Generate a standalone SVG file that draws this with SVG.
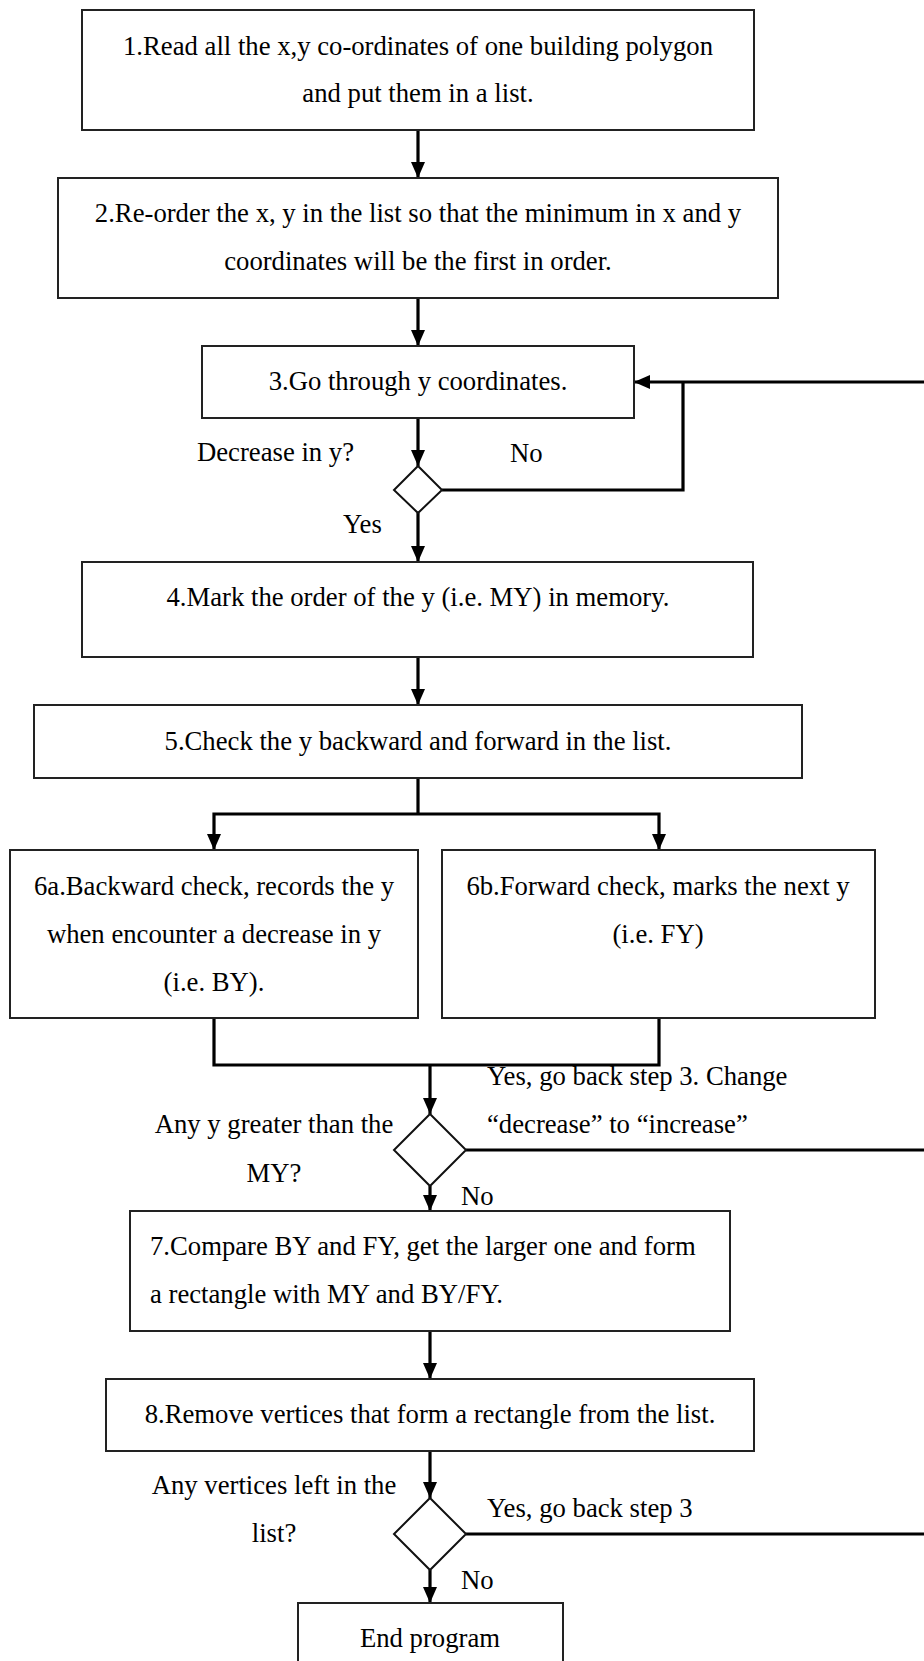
<svg xmlns="http://www.w3.org/2000/svg" width="924" height="1661" viewBox="0 0 924 1661">
<style>
.box{fill:#fff;stroke:#222;stroke-width:2}
.dia{fill:#fff;stroke:#111;stroke-width:2}
.con{fill:none;stroke:#000;stroke-width:3.2}
.arr{marker-end:url(#ah)}
text{font-family:"Liberation Serif","Times New Roman",serif;font-size:26.7px;fill:#000}
.c{text-anchor:middle}
</style>
<defs>
<marker id="ah" viewBox="0 0 16 14" refX="16" refY="7" markerWidth="16" markerHeight="14" markerUnits="userSpaceOnUse" orient="auto">
<path d="M0,0 L16,7 L0,14 z" fill="#000"/>
</marker>
</defs>
<rect width="924" height="1661" fill="#fff"/>
<g id="connectors">
<line class="con arr" x1="418" y1="130" x2="418" y2="178"/>
<line class="con arr" x1="418" y1="298" x2="418" y2="346"/>
<line class="con arr" x1="418" y1="418" x2="418" y2="466"/>
<polyline class="con" points="442,490 683,490 683,382"/>
<line class="con arr" x1="924" y1="382" x2="634" y2="382"/>
<line class="con arr" x1="418" y1="513" x2="418" y2="562"/>
<line class="con arr" x1="418" y1="657" x2="418" y2="705"/>
<polyline class="con" points="418,778 418,814"/>
<polyline class="con arr" points="418,814 214,814 214,850"/>
<polyline class="con arr" points="418,814 659,814 659,850"/>
<polyline class="con" points="214,1018 214,1065 659,1065 659,1018"/>
<line class="con arr" x1="430" y1="1065" x2="430" y2="1114"/>
<line class="con" x1="466" y1="1150" x2="924" y2="1150"/>
<line class="con arr" x1="430" y1="1186" x2="430" y2="1211"/>
<line class="con arr" x1="430" y1="1331" x2="430" y2="1379"/>
<line class="con arr" x1="430" y1="1451" x2="430" y2="1498"/>
<line class="con" x1="466" y1="1534" x2="924" y2="1534"/>
<line class="con arr" x1="430" y1="1570" x2="430" y2="1603"/>
</g>
<g id="step1">
<rect class="box" x="82" y="10" width="672" height="120"/>
<text class="c" x="418" y="55">1.Read all the x,y co-ordinates of one building polygon</text>
<text class="c" x="418" y="102">and put them in a list.</text>
</g>
<g id="step2">
<rect class="box" x="58" y="178" width="720" height="120"/>
<text class="c" x="418" y="222">2.Re-order the x, y in the list so that the minimum in x and y</text>
<text class="c" x="418" y="270">coordinates will be the first in order.</text>
</g>
<g id="step3">
<rect class="box" x="202" y="346" width="432" height="72"/>
<text class="c" x="418" y="390">3.Go through y coordinates.</text>
</g>
<g id="decision1">
<polygon class="dia" points="418,466 442,490 418,513 394,490"/>
<text x="197" y="461">Decrease in y?</text>
<text x="510" y="462">No</text>
<text x="343" y="533">Yes</text>
</g>
<g id="step4">
<rect class="box" x="82" y="562" width="671" height="95"/>
<text class="c" x="418" y="606">4.Mark the order of the y (i.e. MY) in memory.</text>
</g>
<g id="step5">
<rect class="box" x="34" y="705" width="768" height="73"/>
<text class="c" x="418" y="750">5.Check the y backward and forward in the list.</text>
</g>
<g id="step6a">
<rect class="box" x="10" y="850" width="408" height="168"/>
<text class="c" x="214" y="895">6a.Backward check, records the y</text>
<text class="c" x="214" y="943">when encounter a decrease in y</text>
<text class="c" x="214" y="991">(i.e. BY).</text>
</g>
<g id="step6b">
<rect class="box" x="442" y="850" width="433" height="168"/>
<text class="c" x="658" y="895">6b.Forward check, marks the next y</text>
<text class="c" x="658" y="943">(i.e. FY)</text>
</g>
<g id="decision2">
<polygon class="dia" points="430,1114 466,1150 430,1186 394,1150"/>
<text class="c" x="274" y="1133">Any y greater than the</text>
<text class="c" x="274" y="1182">MY?</text>
<text x="487" y="1085">Yes, go back step 3. Change</text>
<text x="487" y="1133">“decrease” to “increase”</text>
<text x="461" y="1205">No</text>
</g>
<g id="step7">
<rect class="box" x="130" y="1211" width="600" height="120"/>
<text x="150" y="1255">7.Compare BY and FY, get the larger one and form</text>
<text x="150" y="1303">a rectangle with MY and BY/FY.</text>
</g>
<g id="step8">
<rect class="box" x="106" y="1379" width="648" height="72"/>
<text class="c" x="430" y="1423">8.Remove vertices that form a rectangle from the list.</text>
</g>
<g id="decision3">
<polygon class="dia" points="430,1498 466,1534 430,1570 394,1534"/>
<text class="c" x="274" y="1494">Any vertices left in the</text>
<text class="c" x="274" y="1542">list?</text>
<text x="487" y="1517">Yes, go back step 3</text>
<text x="461" y="1589">No</text>
</g>
<g id="end">
<rect class="box" x="298" y="1603" width="265" height="80"/>
<text class="c" x="430" y="1647">End program</text>
</g>
</svg>
